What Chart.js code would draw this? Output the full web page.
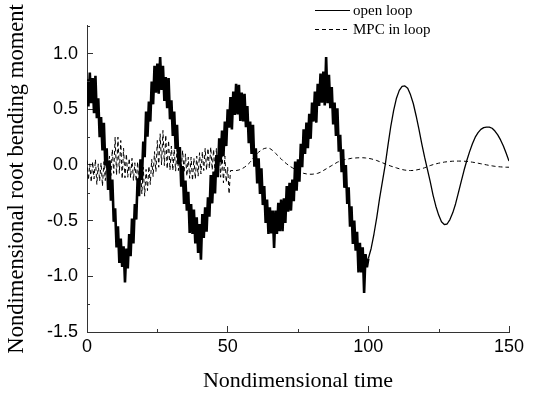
<!DOCTYPE html>
<html><head><meta charset="utf-8">
<script src="https://cdn.jsdelivr.net/npm/chart.js@4"></script>
<style>html,body{margin:0;padding:0;background:#fff}#wrap{width:537px;height:394px}</style>
</head><body><div id="wrap"><canvas id="c" width="537" height="394"></canvas></div>
<script>
const seriesNames = ['open loop', 'MPC in loop'];
const xTitle = 'Nondimensional time';
const yTitle = 'Nondimensional root bending moment';
const xTicksMajor = [0, 50, 100, 150];
const xTicksMinor = [25, 75, 125];
const yTicksMajor = [-1.5, -1.0, -0.5, 0.0, 0.5, 1.0];
const yTicksMinor = [-1.25, -0.75, -0.25, 0.25, 0.75, 1.25];

// evenly spaced sample times
function steps(a, b, h) { const r = []; for (let v = a; v <= b + 1e-9; v += h) r.push(+v.toFixed(2)); return r; }

const openLoopTime = steps(0, 100, 0.5).concat(steps(101, 150, 1));
const openLoop = [
  0.77, 0.525, 0.83, 0.555, 0.78, 0.465, 0.80, 0.42, 0.60, 0.25,
  0.43, 0.13, 0.38, -0.005, 0.15, -0.225, 0.04, -0.32, -0.13, -0.51,
  -0.39, -0.74, -0.55, -0.88, -0.66, -0.915, -0.73, -1.055, -0.75, -0.93,
  -0.62, -0.82, -0.48, -0.705, -0.35, -0.49, -0.12, -0.28, 0.05, -0.135,
  0.21, 0.07, 0.48, 0.255, 0.57, 0.39, 0.75, 0.545, 0.89, 0.65,
  0.91, 0.64, 0.97, 0.675, 0.89, 0.575, 0.79, 0.51, 0.78, 0.41,
  0.58, 0.26, 0.48, 0.145, 0.36, 0.01, 0.16, -0.195, -0.01, -0.35,
  -0.14, -0.41, -0.24, -0.61, -0.35, -0.62, -0.40, -0.705, -0.47, -0.79,
  -0.53, -0.85, -0.44, -0.655, -0.38, -0.60, -0.29, -0.465, -0.09, -0.345,
  -0.06, -0.255, 0.09, -0.11, 0.24, 0.025, 0.31, 0.08, 0.39, 0.17,
  0.50, 0.335, 0.61, 0.32, 0.66, 0.45, 0.73, 0.455, 0.72, 0.395,
  0.65, 0.39, 0.64, 0.34, 0.53, 0.195, 0.39, 0.10, 0.36, -0.015,
  0.15, -0.165, 0.06, -0.26, -0.03, -0.36, -0.19, -0.52, -0.31, -0.62,
  -0.38, -0.615, -0.41, -0.745, -0.41, -0.62, -0.34, -0.595, -0.31, -0.595,
  -0.30, -0.52, -0.19, -0.42, -0.16, -0.41, -0.13, -0.325, 0.03, -0.23,
  0.05, -0.15, 0.19, -0.02, 0.32, 0.10, 0.38, 0.15, 0.46, 0.235,
  0.56, 0.39, 0.66, 0.38, 0.73, 0.53, 0.82, 0.56, 0.84, 0.535,
  0.97, 0.555, 0.81, 0.51, 0.70, 0.365, 0.56, 0.26, 0.51, 0.12,
  0.27, -0.065, 0.14, -0.205, 0.0, -0.35, -0.20, -0.555, -0.37, -0.71,
  -0.50, -0.77, -0.60, -0.965, -0.70, -0.965, -0.74, -1.15, -0.80, -0.92,
  -0.84,
  -0.75, -0.62, -0.47, -0.30, -0.15, 0.0, 0.18, 0.35, 0.49, 0.60,
  0.67, 0.705, 0.71, 0.69, 0.63, 0.55, 0.44, 0.32, 0.19, 0.07,
  -0.04, -0.15, -0.27, -0.37, -0.45, -0.51, -0.535, -0.53, -0.49, -0.43,
  -0.35, -0.25, -0.15, -0.05, 0.04, 0.12, 0.19, 0.25, 0.29, 0.32,
  0.335, 0.34, 0.34, 0.33, 0.305, 0.27, 0.225, 0.17, 0.105, 0.035
];

const mpcTime = steps(0, 50, 0.5).concat([50.5], steps(51, 150, 1));
const mpcInLoop = [
  0.04, -0.135, 0.01, -0.155, 0.03, -0.125, 0.05, -0.175, 0.01, -0.145,
  0.02, -0.19, 0.03, -0.14, 0.08, -0.10, 0.08, -0.095, 0.14, -0.075,
  0.25, -0.09, 0.25, -0.075, 0.22, -0.125, 0.15, -0.115, 0.10, -0.11,
  0.06, -0.115, 0.06, -0.14, 0.02, -0.15, 0.03, -0.205, -0.01, -0.26,
  -0.02, -0.28, -0.04, -0.23, -0.01, -0.175, 0.05, -0.105, 0.12, -0.06,
  0.22, -0.02, 0.28, 0.0, 0.31, -0.005, 0.27, -0.035, 0.22, -0.045,
  0.17, -0.05, 0.14, -0.055, 0.14, -0.05, 0.16, -0.045, 0.13, -0.07,
  0.10, -0.10, 0.07, -0.12, 0.07, -0.14, 0.06, -0.125, 0.08, -0.10,
  0.11, -0.08, 0.12, -0.05, 0.15, -0.045, 0.15, -0.03, 0.16, -0.045,
  0.14, -0.065, 0.15, -0.085, 0.15, -0.11, 0.12, -0.16, 0.08, -0.155,
  -0.02,
  -0.26,
  -0.05, -0.05, -0.05, -0.045, -0.035, -0.02, 0.0, 0.025, 0.06, 0.09,
  0.115, 0.135, 0.148, 0.153, 0.148, 0.13, 0.105, 0.08, 0.055, 0.03,
  0.01, -0.01, -0.025, -0.04, -0.055, -0.065, -0.075, -0.08, -0.083, -0.083,
  -0.08, -0.075, -0.065, -0.05, -0.035, -0.02, -0.005, 0.01, 0.025, 0.035,
  0.045, 0.05, 0.055, 0.06, 0.062, 0.064, 0.065, 0.065, 0.063, 0.06,
  0.055, 0.048, 0.04, 0.03, 0.02, 0.01, 0.0, -0.01, -0.018, -0.026,
  -0.034, -0.041, -0.046, -0.049, -0.05, -0.049, -0.045, -0.04, -0.033, -0.025,
  -0.015, -0.005, 0.003, 0.01, 0.016, 0.021, 0.026, 0.029, 0.032, 0.034,
  0.035, 0.035, 0.035, 0.034, 0.032, 0.029, 0.025, 0.021, 0.016, 0.011,
  0.006, 0.001, -0.004, -0.008, -0.012, -0.015, -0.017, -0.019, -0.02, -0.02
];

const minorTicks = {
  id: 'minorTicks',
  afterDraw(chart) {
    const { ctx, scales: { x, y }, chartArea: a } = chart;
    ctx.save();
    ctx.strokeStyle = '#333'; ctx.lineWidth = 1;
    ctx.beginPath();
    xTicksMinor.forEach(v => { const px = Math.round(x.getPixelForValue(v)) + 0.5; ctx.moveTo(px, a.bottom); ctx.lineTo(px, a.bottom - 3); });
    yTicksMinor.forEach(v => { const py = Math.round(y.getPixelForValue(v)) + 0.5; ctx.moveTo(a.left, py); ctx.lineTo(a.left + 3, py); });
    ctx.stroke();
    ctx.restore();
  }
};

const legendBox = {
  id: 'legendBox',
  afterDraw(chart) {
    const ctx = chart.ctx;
    ctx.save();
    chart.data.datasets.forEach((ds, i) => {
      const y = 10 + i * 19;
      ctx.strokeStyle = '#000'; ctx.lineWidth = 1;
      ctx.setLineDash(ds.borderDash || []);
      ctx.beginPath(); ctx.moveTo(315, y + 0.5); ctx.lineTo(350, y + 0.5); ctx.stroke();
      ctx.setLineDash([]);
      ctx.fillStyle = '#000';
      ctx.font = '15px "Liberation Serif"';
      ctx.textBaseline = 'middle'; ctx.textAlign = 'left';
      ctx.fillText(ds.label, 353, y + 1);
    });
    ctx.restore();
  }
};

new Chart(document.getElementById('c'), {
  type: 'line',
  data: {
    datasets: [
      { label: seriesNames[0], data: openLoopTime.map((t, i) => ({ x: t, y: openLoop[i] })),
        borderColor: '#000', borderWidth: 1.3, pointRadius: 0, fill: false, tension: 0, borderJoinStyle: 'bevel',
        segment: { borderWidth: c => (c.p1.parsed.x <= 100 ? 2.6 : 1.3) } },
      { label: seriesNames[1], data: mpcTime.map((t, i) => ({ x: t, y: mpcInLoop[i] })),
        borderColor: '#000', borderWidth: 1, borderDash: [4, 3], pointRadius: 0, fill: false, tension: 0 }
    ]
  },
  options: {
    responsive: false, animation: false, devicePixelRatio: 1,
    layout: { padding: { top: 18, right: 28, left: 0, bottom: 0 } },
    plugins: { legend: { display: false }, tooltip: { enabled: false } },
    scales: {
      x: {
        type: 'linear', min: 0, max: 150,
        afterFit(s) { s.height = 62; },
        afterBuildTicks(s) { s.ticks = xTicksMajor.map(v => ({ value: v })); },
        ticks: { font: { family: '"Liberation Sans", Arial', size: 18 }, color: '#000', padding: 10, maxRotation: 0, callback: v => String(v) },
        grid: { display: true, drawOnChartArea: false, drawTicks: true, tickLength: -6, tickColor: '#333', tickWidth: 1 },
        border: { display: true, color: '#333', width: 1 },
        title: { display: true, text: xTitle, font: { family: '"Liberation Serif"', size: 22 }, color: '#000', padding: { top: 0, bottom: 0 } }
      },
      y: {
        type: 'linear', min: -1.5, max: 1.25,
        afterFit(s) { s.width = 87; },
        afterBuildTicks(s) { s.ticks = yTicksMajor.map(v => ({ value: v })); },
        ticks: { font: { family: '"Liberation Sans", Arial', size: 18 }, color: '#000', padding: 15, callback: v => Number(v).toFixed(1) },
        grid: { display: true, drawOnChartArea: false, drawTicks: true, tickLength: -6, tickColor: '#333', tickWidth: 1 },
        border: { display: true, color: '#333', width: 1 },
        title: { display: true, text: yTitle, font: { family: '"Liberation Serif"', size: 22.6 }, color: '#000', padding: { top: 4, bottom: 0 } }
      }
    }
  },
  plugins: [minorTicks, legendBox]
});
</script>
</body></html>
